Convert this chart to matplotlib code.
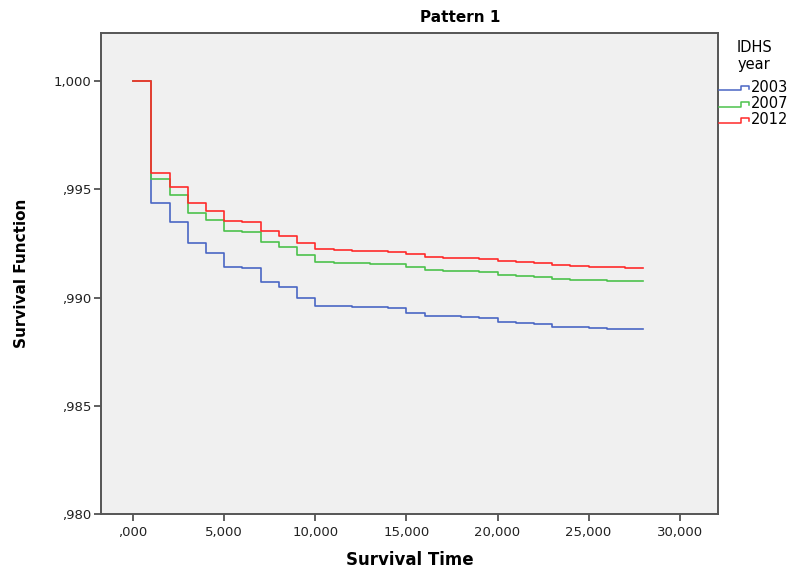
"""Kaplan-Meier style survival curves, Pattern 1, by IDHS survey year."""

import matplotlib

matplotlib.use("Agg")
import matplotlib.pyplot as plt
from matplotlib.lines import Line2D
from matplotlib.ticker import FixedLocator

# survival time points (step changes happen at each integer time)
TIME = list(range(0, 29))

SURV_2003 = [1.0, 0.99435, 0.99347, 0.99250, 0.99204, 0.99142, 0.99135, 0.99073,
             0.99047, 0.98999, 0.98961, 0.98961, 0.98956, 0.98955, 0.98950, 0.98931,
             0.98916, 0.98913, 0.98910, 0.98907, 0.98888, 0.98884, 0.98879, 0.98864,
             0.98863, 0.98859, 0.98854, 0.98853, 0.98853]
SURV_2007 = [1.0, 0.99546, 0.99475, 0.99393, 0.99358, 0.99309, 0.99303, 0.99256,
             0.99232, 0.99196, 0.99165, 0.99162, 0.99159, 0.99157, 0.99153, 0.99139,
             0.99128, 0.99125, 0.99122, 0.99119, 0.99105, 0.99100, 0.99096, 0.99084,
             0.99083, 0.99081, 0.99076, 0.99075, 0.99075]
SURV_2012 = [1.0, 0.99574, 0.99512, 0.99435, 0.99401, 0.99355, 0.99350, 0.99307,
             0.99284, 0.99253, 0.99223, 0.99219, 0.99216, 0.99215, 0.99210, 0.99199,
             0.99188, 0.99184, 0.99181, 0.99178, 0.99167, 0.99164, 0.99159, 0.99149,
             0.99148, 0.99142, 0.99139, 0.99138, 0.99138]

YEARS = ["2003", "2007", "2012"]
COLORS = ["#4a66c4", "#4cc24c", "#ff2a2a"]

X_TICKS = [0, 5, 10, 15, 20, 25, 30]
X_LABELS = [",000", "5,000", "10,000", "15,000", "20,000", "25,000", "30,000"]
Y_TICKS = [0.980, 0.985, 0.990, 0.995, 1.000]
Y_LABELS = [",980", ",985", ",990", ",995", "1,000"]

plt.rcParams["font.family"] = ["DejaVu Sans"]

fig = plt.figure(figsize=(7.91, 5.70), dpi=100)
ax = fig.add_axes((0.1277, 0.0982, 0.7800, 0.8438))
ax.set_facecolor("#f0f0f0")

for surv, color in zip((SURV_2003, SURV_2007, SURV_2012), COLORS):
    ax.step(TIME, surv, where="post", color=color, lw=1.2)

ax.set_xlim(-1.76, 32.1)
ax.set_ylim(0.980, 1.00222)
ax.xaxis.set_major_locator(FixedLocator(X_TICKS))
ax.set_xticklabels(X_LABELS)
ax.yaxis.set_major_locator(FixedLocator(Y_TICKS))
ax.set_yticklabels(Y_LABELS)
ax.tick_params(direction="out", length=5, width=1.2, color="#444444",
               labelsize=9.5, labelcolor="#222222")
ax.tick_params(axis="y", pad=2)
for side in ax.spines.values():
    side.set_color("#555555")
    side.set_linewidth(1.4)

ax.set_xlabel("Survival Time", fontsize=12, fontweight="bold", labelpad=9)
ax.set_ylabel("Survival Function", fontsize=11, fontweight="bold", labelpad=18)
fig.text(460 / 791, 1 - 17 / 570, "Pattern 1", ha="center", va="center",
         fontsize=11, fontweight="bold")

# legend with little step-shaped icons, drawn in pixel coordinates
fig.text(754 / 791, 1 - 47 / 570, "IDHS", ha="center", va="center", fontsize=10.5)
fig.text(754 / 791, 1 - 64 / 570, "year", ha="center", va="center", fontsize=10.5)
for i, (year, color) in enumerate(zip(YEARS, COLORS)):
    yc = 88 + i * 16
    xs = [719, 741, 741, 749, 749]
    ys = [yc + 2.5, yc + 2.5, yc - 2, yc - 2, yc + 0.5]
    fig.add_artist(Line2D([x / 791 for x in xs], [1 - y / 570 for y in ys],
                          color=color, lw=1.1))
    fig.text(751 / 791, 1 - yc / 570, year, ha="left", va="center", fontsize=10.5)

fig.savefig("out.png", dpi=100, facecolor="white")
